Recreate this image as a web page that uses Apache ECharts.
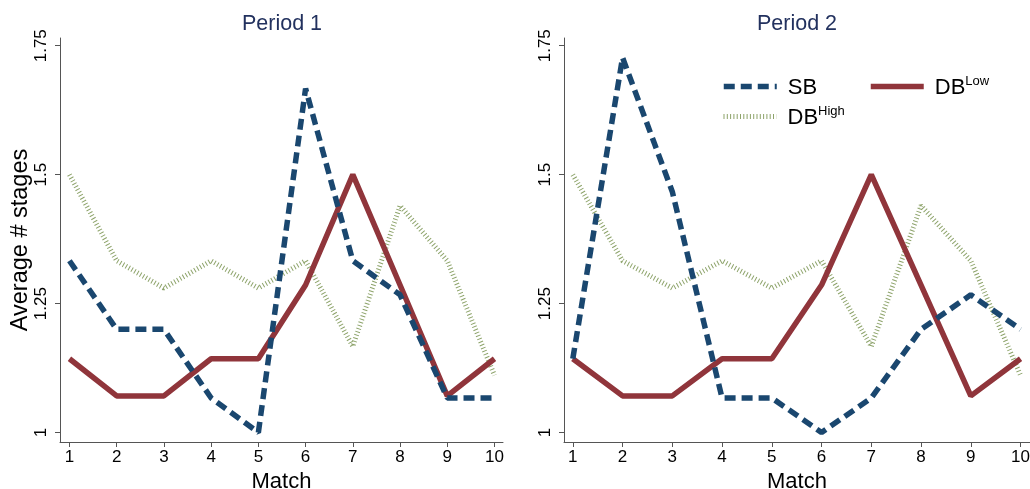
<!DOCTYPE html>
<html><head><meta charset="utf-8">
<script src="https://cdn.jsdelivr.net/npm/echarts@6/dist/echarts.min.js"></script>
<style>html,body{margin:0;padding:0;background:#fff}#c{width:1030px;height:489px}</style>
</head><body><div id="c"></div>
<script>
const matches = [1,2,3,4,5,6,7,8,9,10];
const xTicks = [1,2,3,4,5,6,7,8,9,10];
const yTicks = [1, 1.25, 1.5, 1.75];
const panelTitles = ['Period 1', 'Period 2'];
const seriesNames = ['SB', 'DB Low', 'DB High'];
const sbP1     = [1.333, 1.2,   1.2,   1.067, 1.0,   1.667, 1.333, 1.267, 1.067, 1.067];
const dbLowP1  = [1.143, 1.071, 1.071, 1.143, 1.143, 1.286, 1.5,   1.286, 1.071, 1.143];
const dbHighP1 = [1.5,   1.333, 1.28,  1.333, 1.28,  1.333, 1.167, 1.44,  1.333, 1.111];
const sbP2     = [1.143, 1.727, 1.467, 1.067, 1.067, 1.0,   1.067, 1.2,   1.267, 1.2];
const dbLowP2  = [1.143, 1.071, 1.071, 1.143, 1.143, 1.286, 1.5,   1.286, 1.071, 1.143];
const dbHighP2 = [1.5,   1.333, 1.28,  1.333, 1.28,  1.333, 1.167, 1.44,  1.333, 1.111];

const FONT = '"Liberation Sans", Arial, Helvetica, sans-serif';
const C_SB = '#1a476f', C_LOW = '#90353b', C_HIGH = '#8da36a';
const AXIS_C = '#555555';
const styles = {
  'SB': {color: C_SB, width: 5.5, type: [11, 6], cap: 'butt'},
  'DB Low': {color: C_LOW, width: 5.5, type: 'solid', cap: 'butt'},
  'DB High': {color: C_HIGH, width: 5, type: [1, 2.3], cap: 'butt'}
};

const pair = arr => matches.map((m, i) => [m, arr[i]]);
const panels = [
  {sb: sbP1, low: dbLowP1, high: dbHighP1, grid: {left: 60, top: 38, width: 443, height: 404}, xmin: 0.8, xmax: 10.18, cx: 282},
  {sb: sbP2, low: dbLowP2, high: dbHighP2, grid: {left: 564, top: 38, width: 466, height: 404}, xmin: 0.823, xmax: 10.19, cx: 797}
];

const grids = [], xAxes = [], yAxes = [], series = [], titles = [];
panels.forEach((p, k) => {
  grids.push(Object.assign({containLabel: false, outerBoundsMode: 'none'}, p.grid));
  titles.push({text: panelTitles[k], left: p.cx, top: 13, textAlign: 'center', padding: 0,
    textStyle: {fontFamily: FONT, fontSize: 21.5, fontWeight: 'normal', color: '#22315e'}});
  xAxes.push({type: 'value', gridIndex: k, min: p.xmin, max: p.xmax,
    name: 'Match', nameLocation: 'middle', nameGap: 27,
    nameTextStyle: {fontFamily: FONT, fontSize: 22, color: '#000'},
    splitLine: {show: false},
    axisLine: {show: true, onZero: false, lineStyle: {color: AXIS_C, width: 1}},
    axisTick: {show: true, length: 5, customValues: xTicks, lineStyle: {color: AXIS_C}},
    axisLabel: {customValues: xTicks, margin: 7, fontFamily: FONT, fontSize: 17, color: '#000'}
  });
  yAxes.push({type: 'value', gridIndex: k, min: 0.9816, max: 1.765,
    name: k === 0 ? 'Average # stages' : '', nameLocation: 'middle', nameGap: 22, nameRotate: 90,
    nameTextStyle: {fontFamily: FONT, fontSize: 23.5, color: '#000'},
    splitLine: {show: false},
    axisLine: {show: true, onZero: false, lineStyle: {color: AXIS_C, width: 1}},
    axisTick: {show: true, length: 5, customValues: yTicks, lineStyle: {color: AXIS_C}},
    axisLabel: {customValues: yTicks, rotate: 90, margin: 10, fontFamily: FONT, fontSize: 17, color: '#000'}
  });
  const vals = {'SB': p.sb, 'DB Low': p.low, 'DB High': p.high};
  ['DB High', 'DB Low', 'SB'].forEach((name, j) => {
    series.push({type: 'line', name: name, xAxisIndex: k, yAxisIndex: k,
      data: pair(vals[name]), symbol: 'none', showSymbol: false, z: 2 + j,
      lineStyle: styles[name], itemStyle: {color: styles[name].color},
      emphasis: {disabled: true}, silent: true});
  });
});

const rich = {
  a: {fontFamily: FONT, fontSize: 22, color: '#000', padding: [0, 0, 0, 6], lineHeight: 24, verticalAlign: 'bottom'},
  s: {fontFamily: FONT, fontSize: 13, color: '#000', lineHeight: 24, verticalAlign: 'top', padding: [0, 0, 3, 0]}
};
const fmt = name => name === 'SB' ? '{a|SB}' : (name === 'DB Low' ? '{a|DB}{s|Low}' : '{a|DB}{s|High}');
const IH = 40;
const mkLegend = (name, left, cy) => ({
  data: [name], left: left, top: cy - IH / 2, padding: 0, itemWidth: 53, itemHeight: IH,
  selectedMode: false, formatter: fmt, textStyle: {rich: rich},
  lineStyle: Object.assign({}, styles[name]),
  itemStyle: {opacity: 0, color: 'rgba(0,0,0,0)', borderWidth: 0}
});
const legends = [mkLegend('SB', 721, 90.5), mkLegend('DB Low', 868, 90.5), mkLegend('DB High', 721, 120.5)];

const chart = echarts.init(document.getElementById('c'), null, {renderer: 'canvas'});
chart.setOption({
  animation: false, backgroundColor: '#fff',
  title: titles, grid: grids, xAxis: xAxes, yAxis: yAxes, legend: legends, series: series
});
</script></body></html>
